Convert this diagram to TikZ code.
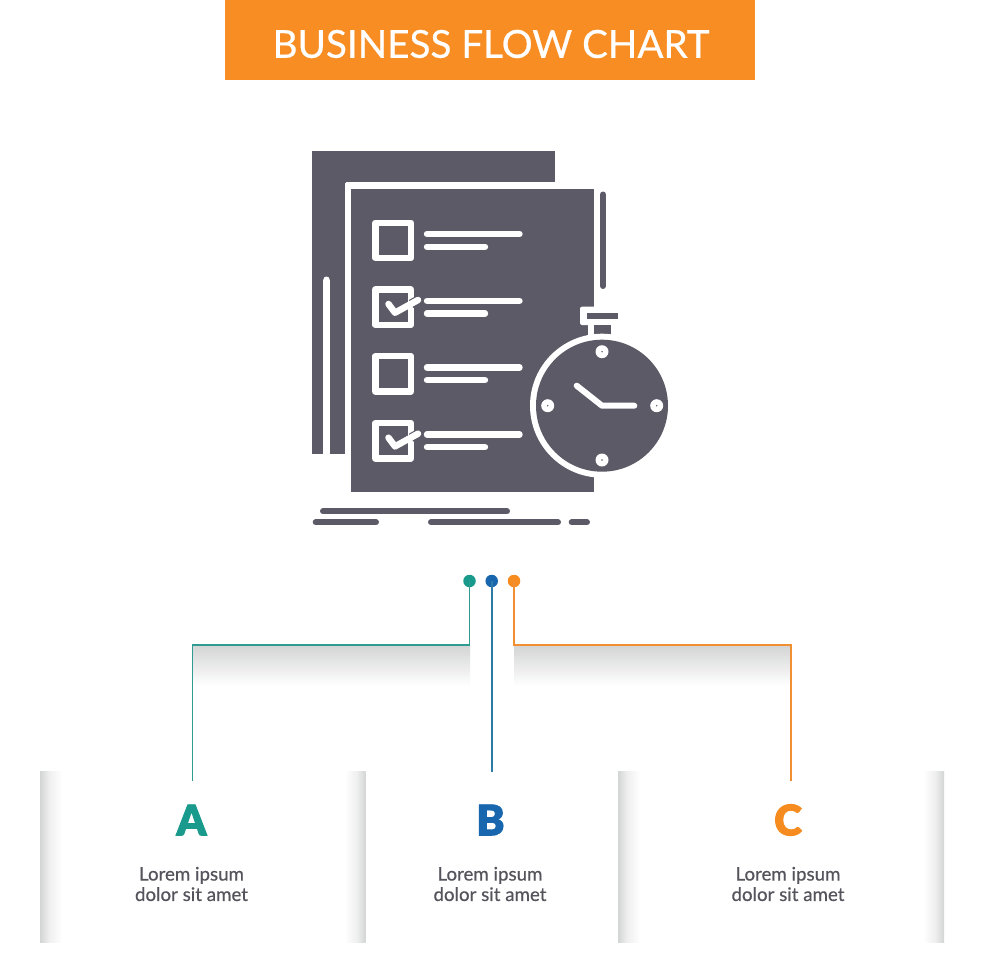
\documentclass[tikz,border=0pt]{standalone}
\usepackage{fontspec}
\setmainfont{Lato}
\newfontfamily\titlef[FakeBold=0.6]{Lato}
\newfontfamily\bodyf[FakeBold=0.5]{Lato}
\newfontfamily\bigf[FakeBold=2.2]{Lato Black}
\definecolor{ink}{HTML}{5B5A66}
\definecolor{head}{HTML}{F78D23}
\definecolor{teal}{HTML}{1A9A8C}
\definecolor{blue}{HTML}{1766AE}
\definecolor{orng}{HTML}{F68B1F}
\definecolor{linet}{HTML}{2F9C91}
\definecolor{lineb}{HTML}{2F7BA8}
\definecolor{lineo}{HTML}{F28F33}
\definecolor{txt}{HTML}{55545C}
\definecolor{shade}{HTML}{D3D4D4}
\definecolor{shadem}{HTML}{EFEFEF}
\tikzset{
 x=1pt,y=-1pt,
 wl/.style={line width=6.4pt,white,line cap=round},
 gl/.style={line width=6pt,ink,line cap=round},
 box/.style={line width=6.4pt,white,line join=round},
 knob/.style={circle,fill=white,minimum size=13pt,inner sep=0pt},
 dot/.style={circle,minimum size=12.5pt,inner sep=0pt},
 conn/.style={line width=1.8pt},
 big/.style={font=\bigf\fontsize{42}{42}\selectfont},
 body/.style={align=center,text=txt,font=\bodyf\fontsize{18.7}{20.4}\selectfont},
}
\begin{document}
\begin{tikzpicture}
\useasboundingbox (0,0) rectangle (980,980);
\fill[white] (0,0) rectangle (980,980);
% header
\fill[head] (225,0) rectangle (755,80);
\node[text=white,font=\titlef\fontsize{38.6}{38}\selectfont] (title) at (491,44) {BUSINESS FLOW CHART};
% icon
\fill[ink] (312,151) rectangle (554.7,453.7);
\fill[white,rounded corners=1.5pt] (345,182) rectangle (600,500);
\fill[ink] (351,188.7) rectangle (593.7,491.7);
\draw[wl,line cap=butt] (326.5,279.5) -- (326.5,454);
\fill[white] (326.5,279.7) circle (3.2);
\draw[gl] (603,194.5) -- (603,286);
\foreach \r in {0,66.8,133.5,200.5}{
  \draw[box] (375.3,222.7+\r) rectangle (411,258+\r);
  \draw[wl] (427,234+\r) -- (519.5,234+\r);
  \draw[wl] (427,246.7+\r) -- (485,246.7+\r);
}
\foreach \r in {0,133.7}{
  \draw[line width=9pt,ink] (411,304+\r) -- (420,299+\r);
  \draw[line width=6.5pt,white,line cap=round,line join=round] (388.5,304+\r) -- (395,312.7+\r) -- (418,300+\r);
}
% stopwatch
\fill[white,rounded corners=2pt] (580,306.7) rectangle (600,325);
\fill[white] (587.5,320) rectangle (600,345);
\fill[ink] (586.7,312.7) rectangle (618.3,319);
\fill[ink] (593.7,325.3) rectangle (611,340);
\fill[white] (602,405.7) circle (72);
\fill[ink] (602,405.7) circle (66);
\foreach \p in {(602,351.7),(602,460),(547.7,405.7),(656.7,405.7)}{
  \node[knob] at \p {};
  \fill[ink] \p circle (0.8);
}
\draw[line width=6pt,white,line cap=round,line join=round] (576.7,385.7) -- (602,405.7) -- (634.3,405.7);
\draw[gl] (323,511.3) -- (507,511.3);
\draw[gl] (315.7,522.3) -- (376,522.3);
\draw[gl] (431,522.3) -- (558,522.3);
\draw[gl] (571.7,522.3) -- (587,522.3);
% shadows
\shade[top color=shade,bottom color=white] (192,645) rectangle (470,686);
\shade[top color=shade,bottom color=white] (514,645) rectangle (791,686);
\foreach \a/\b in {40/62,618/640}{
  \shade[left color=shade,right color=shadem] (\a,771.5) rectangle (\a+9,942.5);
  \shade[left color=shadem,right color=white] (\a+9,771.5) rectangle (\b,942.5);
}
\foreach \a/\b in {345/365.5,923/944}{
  \shade[left color=white,right color=shadem] (\a,771.5) rectangle (\b-9,942.5);
  \shade[left color=shadem,right color=shade] (\b-9,771.5) rectangle (\b,942.5);
}
% connectors
\node[dot,fill=teal] (da) at (469.5,581) {};
\node[dot,fill=blue] (db) at (491.7,581) {};
\node[dot,fill=orng] (dc) at (514,581) {};
\coordinate (ea) at (192.5,781);
\coordinate (eb) at (491.7,771.5);
\coordinate (ec) at (791,781);
\draw[conn,linet] (da.center) |- (ea |- 0,645) -- (ea);
\draw[conn,lineb] (db.center) -- (eb);
\draw[conn,lineo] (dc.center) |- (ec |- 0,645) -- (ec);
% labels
\node[big,text=teal] (la) at (191.5,820) {A};
\node[big,text=blue] (lb) at (490.5,820) {B};
\node[big,text=orng] (lc) at (788,820) {C};
\node[body] (ta) at (191.5,884) {Lorem ipsum\\dolor sit amet};
\node[body] (tb) at (490,884) {Lorem ipsum\\dolor sit amet};
\node[body] (tc) at (788,884) {Lorem ipsum\\dolor sit amet};
\end{tikzpicture}
\end{document}
